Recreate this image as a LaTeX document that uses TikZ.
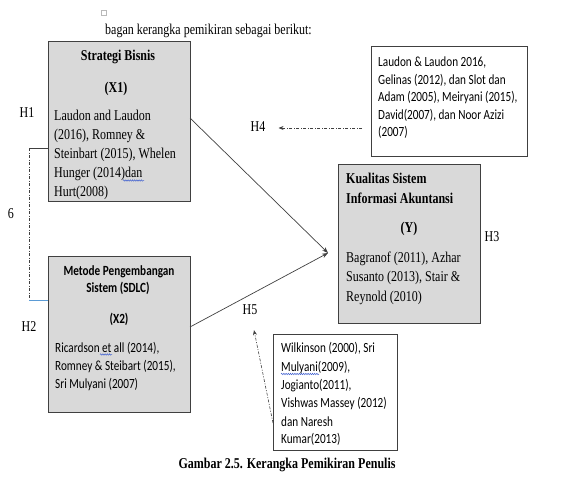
\documentclass[tikz,border=0pt]{standalone}
\usepackage{fontspec}
\setmainfont[FakeStretch=0.8]{Liberation Serif}
\newfontfamily\calfont[FakeStretch=0.8]{Carlito}
\usetikzlibrary{arrows.meta,decorations.pathmorphing}
\definecolor{boxfill}{HTML}{D9D9D9}
\definecolor{edge}{HTML}{404040}
\definecolor{spell}{HTML}{4060D0}
\definecolor{lnkblue}{HTML}{5B9BD5}
\begin{document}
\begin{tikzpicture}[x=1pt,y=-1pt,
 gbox/.style={draw=edge, line width=0.8pt, fill=boxfill, inner sep=0pt, outer sep=0pt},
 wbox/.style={draw=edge, line width=0.8pt, fill=white, inner sep=0pt, outer sep=0pt},
 sr/.style={inner sep=0pt, font=\fontsize{15}{17}\selectfont},
 srb/.style={inner sep=0pt, font=\fontsize{15}{17}\selectfont\bfseries},
 sn/.style={inner sep=0pt, font=\calfont\fontsize{14}{16}\selectfont},
 snb/.style={inner sep=0pt, font=\calfont\fontsize{14}{16}\selectfont\bfseries},
 ln/.style={anchor=base west},
 cn/.style={anchor=base},
 arr/.style={draw=edge, line width=0.7pt, -{Stealth[length=6pt,width=4.5pt]}},
 dd/.style={draw=edge, line width=0.6pt, dash pattern=on 3pt off 1.5pt on 1pt off 1.5pt},
 squig/.style={draw=spell, line width=0.5pt, decorate, decoration={snake, amplitude=0.7pt, segment length=2.2pt}}
]
\useasboundingbox (0,0) rectangle (572,487);

% header
\draw[gray!55, line width=0.5pt] (101,10) rectangle (106,15);
\node[sr,ln] (head) at (105,35) {bagan kerangka pemikiran sebagai berikut:};

% boxes
\node[gbox, minimum width=142pt, minimum height=160pt] (x1) at (119,121) {};
\node[gbox, minimum width=142pt, minimum height=156pt] (x2) at (119,334) {};
\node[gbox, minimum width=142pt, minimum height=159pt] (y) at (409,243.5) {};
\node[wbox, minimum width=156pt, minimum height=110pt] (r4) at (449,101) {};
\node[wbox, minimum width=124pt, minimum height=116pt] (r5) at (335,392) {};

% X1 text
\node[srb,cn] (x1t1) at (118,60) {Strategi Bisnis};
\node[srb,cn] (x1t2) at (116,92) {(X1)};
\node[sr,ln] (x1t3) at (54,120) {Laudon and Laudon};
\node[sr,ln] (x1t4) at (54,139) {(2016), Romney \&};
\node[sr,ln] (x1t5) at (54,158) {Steinbart (2015), Whelen};
\node[sr,ln] (x1t6) at (54,177) {Hunger (2014)dan};
\node[sr,ln] (x1t7) at (54,196) {Hurt(2008)};

% X2 text
\node[snb,cn] (x2t1) at (119,275) {Metode Pengembangan};
\node[snb,cn] (x2t2) at (118,292) {Sistem (SDLC)};
\node[snb,cn] (x2t3) at (119,323) {(X2)};
\node[sn,ln] (x2t4) at (55,352) {Ricardson et all (2014),};
\node[sn,ln] (x2t5) at (55,370) {Romney \& Steibart (2015),};
\node[sn,ln] (x2t6) at (55,388) {Sri Mulyani (2007)};

% Y text
\node[srb,ln] (yt1) at (346,183) {Kualitas Sistem};
\node[srb,ln] (yt2) at (346,203) {Informasi Akuntansi};
\node[srb,cn] (yt3) at (409,232) {(Y)};
\node[sr,ln] (yt4) at (346,262) {Bagranof (2011), Azhar};
\node[sr,ln] (yt5) at (346,281) {Susanto (2013), Stair \&};
\node[sr,ln] (yt6) at (346,301) {Reynold (2010)};

% H4 reference box
\node[sn,ln] (r4t1) at (378,66.5) {Laudon \& Laudon 2016,};
\node[sn,ln] (r4t2) at (378,84) {Gelinas (2012), dan Slot dan};
\node[sn,ln] (r4t3) at (378,101.5) {Adam (2005), Meiryani (2015),};
\node[sn,ln] (r4t4) at (378,119) {David(2007), dan Noor Azizi};
\node[sn,ln] (r4t5) at (378,136.5) {(2007)};

% H5 reference box
\node[sn,ln] (r5t1) at (281,352.5) {Wilkinson (2000), Sri};
\node[sn,ln] (r5t2) at (281,371.5) {Mulyani(2009),};
\node[sn,ln] (r5t3) at (281,389.5) {Jogianto(2011),};
\node[sn,ln] (r5t4) at (281,407.5) {Vishwas Massey (2012)};
\node[sn,ln] (r5t5) at (281,426.5) {dan Naresh};
\node[sn,ln] (r5t6) at (281,443.5) {Kumar(2013)};

% labels
\node[sr] (h1) at (27,113) {H1};
\node[sr] (h2) at (29,327) {H2};
\node[sr] (h3) at (492,237) {H3};
\node[sr] (h4) at (258,127) {H4};
\node[sr] (h5) at (250,310) {H5};
\node[sr] (six) at (11,214) {6};

% caption
\node[srb,cn] (cap) at (287,468) {Gambar 2.5. Kerangka Pemikiran Penulis};

% connectors
\coordinate (tip) at ([xshift=-10pt,yshift=-9.5pt]y.west);
\draw[arr] ([yshift=3pt]x1.east) -- (tip);
\draw[arr] ([yshift=7pt]x2.east) -- (tip);

\coordinate (lc1) at (29,148);
\coordinate (lc2) at (29,300);
\draw[edge, line width=0.7pt] ([yshift=-27pt]x1.west) -- (lc1);
\draw[dd] (lc1) -- (lc2);
\draw[lnkblue, line width=0.8pt] (lc2) -- ([yshift=34pt]x2.west);

\coordinate (h4tip) at ([xshift=13pt,yshift=-1pt]h4.east);
\draw[dd, -{Stealth[length=5pt,width=4pt]}] ([xshift=-9pt,yshift=-27pt]r4.west) -- (h4tip);
\coordinate (h5tip) at ([xshift=4pt,yshift=-15pt]h5.south);
\draw[dd, -{Stealth[length=5pt,width=4pt]}] ([yshift=-31pt]r5.west) -- (h5tip);

% spelling squiggles
\draw[squig] (123,180.5) -- (144,180.5);
\draw[squig] (100,354.5) -- (112,354.5);
\draw[squig] (281,374) -- (319,374);
\end{tikzpicture}
\end{document}
